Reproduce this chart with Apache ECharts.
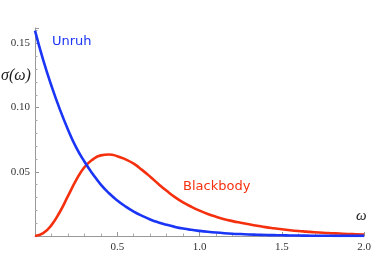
<!DOCTYPE html>
<html><head><meta charset="utf-8">
<script src="https://cdn.jsdelivr.net/npm/echarts@6/dist/echarts.min.js"></script>
<style>html,body{margin:0;padding:0;background:#fff}#c{width:374px;height:280px}</style>
</head><body><div id="c"></div>
<script>
const omega = [0,0.05,0.1,0.15,0.2,0.25,0.3,0.35,0.4,0.45,0.5,0.55,0.6,0.65,0.7,0.75,0.8,0.85,0.9,0.95,1.0,1.05,1.1,1.15,1.2,1.25,1.3,1.35,1.4,1.45,1.5,1.55,1.6,1.65,1.7,1.75,1.8,1.85,1.9,1.95,2.0];
const unruh = [0.160,0.137,0.117,0.099,0.083,0.069,0.058,0.0485,0.040,0.0333,0.0277,0.023,0.019,0.0157,0.0129,0.0106,0.0087,0.0071,0.0058,0.0048,0.0040,0.0033,0.0027,0.0022,0.0018,0.0015,0.0012,0.0010,0.0008,0.00065,0.00053,0.00043,0.00035,0.00028,0.00023,0.00019,0.00015,0.00012,0.0001,0.00008,0.00006];
const blackbody = [0,0.0022,0.0085,0.0185,0.031,0.0435,0.0535,0.0595,0.0628,0.0635,0.0622,0.0597,0.0563,0.0515,0.0462,0.0405,0.0352,0.0303,0.0262,0.0228,0.0198,0.0172,0.0150,0.0131,0.0116,0.0103,0.0091,0.0080,0.0069,0.0060,0.0052,0.0045,0.0039,0.0034,0.0029,0.0025,0.0022,0.0019,0.0016,0.0014,0.0012];
const xTicks = ['0.5','1.0','1.5','2.0'];
const yTicks = ['0.05','0.10','0.15'];
const BLUE = '#1a35f5', RED = '#f5300f';
const pair = a => omega.map((w,i)=>[w,a[i]]);
const chart = echarts.init(document.getElementById('c'));
const serif = '"Liberation Serif","DejaVu Serif",serif';
chart.setOption({
  animation:false,
  grid:{left:35,right:6,top:28,bottom:44,containLabel:false},
  xAxis:{type:'value',min:0,max:2,interval:0.5,
    axisLine:{lineStyle:{color:'#999',width:1}},
    axisTick:{show:true,inside:true,length:4,lineStyle:{color:'#999'}},
    minorTick:{show:true,splitNumber:5,length:2.5,lineStyle:{color:'#aaa'}},
    splitLine:{show:false},
    axisLabel:{fontFamily:serif,fontSize:11,color:'#333',margin:6,
      formatter:v=>{const s=v.toFixed(1);return xTicks.includes(s)?s:'';}}
  },
  yAxis:{type:'value',min:0,max:0.162,interval:0.05,
    axisLine:{show:true,lineStyle:{color:'#999',width:1}},
    axisTick:{show:true,inside:true,length:4,lineStyle:{color:'#999'}},
    minorTick:{show:true,splitNumber:5,length:2.5,lineStyle:{color:'#aaa'}},
    splitLine:{show:false},
    axisLabel:{fontFamily:serif,fontSize:11,color:'#333',margin:5,
      formatter:v=>{const s=v.toFixed(2);return yTicks.includes(s)?s:'';}}
  },
  series:[
    {type:'line',data:pair(blackbody),smooth:true,showSymbol:false,lineStyle:{color:RED,width:2.6},z:2},
    {type:'line',data:pair(unruh),smooth:true,showSymbol:false,lineStyle:{color:BLUE,width:2.6},z:3}
  ],
  graphic:[
    {type:'text',left:1,top:68,style:{text:'σ(ω)',fontFamily:serif,fontStyle:'italic',fontSize:16,fill:'#222'}},
    {type:'text',left:356,top:209,style:{text:'ω',fontFamily:serif,fontStyle:'italic',fontSize:15,fill:'#222'}},
    {type:'text',left:52,top:35,style:{text:'Unruh',fontFamily:'"DejaVu Sans",sans-serif',fontSize:13,fill:BLUE}},
    {type:'text',left:183,top:180,style:{text:'Blackbody',fontFamily:'"DejaVu Sans",sans-serif',fontSize:13,fill:RED}}
  ]
});
</script></body></html>
